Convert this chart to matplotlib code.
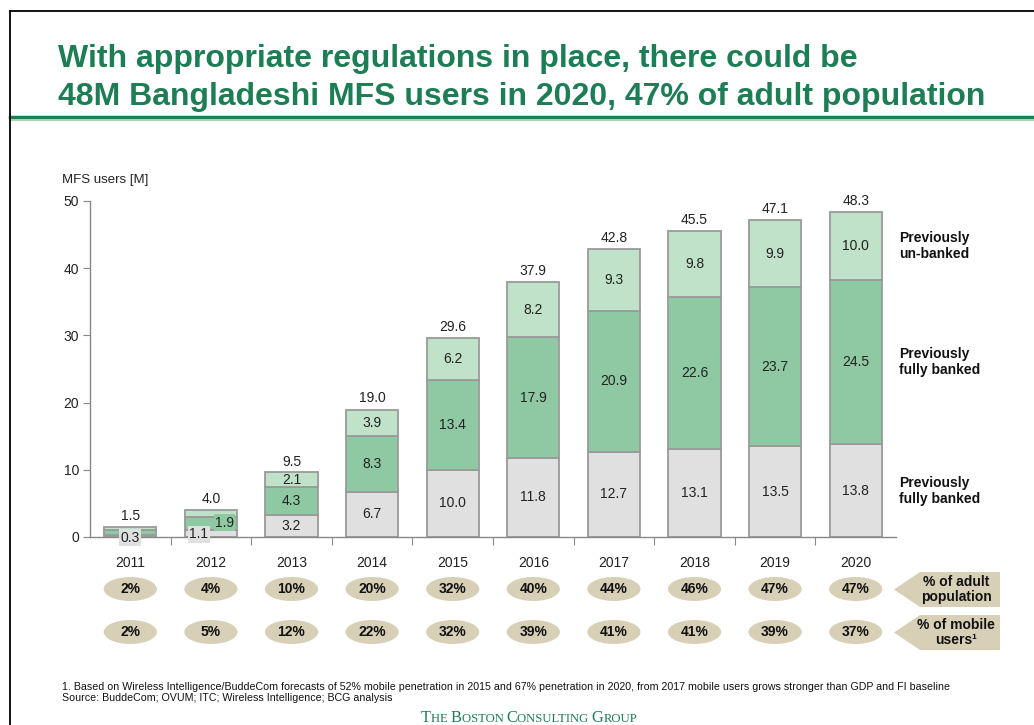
import numpy as np
import matplotlib
matplotlib.use("Agg")
import matplotlib.pyplot as plt
import matplotlib.transforms as mtransforms
from matplotlib.patches import Ellipse, Polygon
from matplotlib.lines import Line2D
from matplotlib.offsetbox import TextArea, HPacker, AnnotationBbox

plt.rcParams['font.family'] = ['Liberation Sans', 'DejaVu Sans']

# data
years = ['2011', '2012', '2013', '2014', '2015', '2016', '2017', '2018', '2019', '2020']
bottom_vals = [0.3, 1.1, 3.2, 6.7, 10.0, 11.8, 12.7, 13.1, 13.5, 13.8]
middle_vals = [0.8, 1.9, 4.3, 8.3, 13.4, 17.9, 20.9, 22.6, 23.7, 24.5]
top_vals = [0.4, 1.0, 2.1, 3.9, 6.2, 8.2, 9.3, 9.8, 9.9, 10.0]
totals = [1.5, 4.0, 9.5, 19.0, 29.6, 37.9, 42.8, 45.5, 47.1, 48.3]
adult_pct = ['2%', '4%', '10%', '20%', '32%', '40%', '44%', '46%', '47%', '47%']
mobile_pct = ['2%', '5%', '12%', '22%', '32%', '39%', '41%', '41%', '39%', '37%']

W, H = 1034, 725
GREEN = '#1d7d55'
C_BOT = '#e0e0e0'
C_MID = '#8fc9a3'
C_TOP = '#bfe2c8'
TAN = '#d8cfb7'
EDGE = '#9a9a9a'


def fx(px):
    return px / W


def fy(py):
    return 1 - py / H


fig = plt.figure(figsize=(W / 100, H / 100), dpi=100)
ax = fig.add_axes([fx(90), fy(537), fx(896) - fx(90), fy(201) - fy(537)])

x = np.arange(len(years))
bw = 0.65
b1 = np.array(bottom_vals)
b2 = b1 + np.array(middle_vals)
ax.bar(x, bottom_vals, bw, color=C_BOT, edgecolor=EDGE, linewidth=1.3, zorder=2)
ax.bar(x, middle_vals, bw, bottom=b1, color=C_MID, edgecolor=EDGE, linewidth=1.3, zorder=2)
ax.bar(x, top_vals, bw, bottom=b2, color=C_TOP, edgecolor=EDGE, linewidth=1.3, zorder=2)

# segment labels (the two small bars get boxed labels)
for i in range(2, len(years)):
    ax.text(x[i], bottom_vals[i] / 2, f'{bottom_vals[i]:.1f}', ha='center', va='center', fontsize=10, color='#222')
    ax.text(x[i], b1[i] + middle_vals[i] / 2, f'{middle_vals[i]:.1f}', ha='center', va='center', fontsize=10, color='#222')
    ax.text(x[i], b2[i] + top_vals[i] / 2, f'{top_vals[i]:.1f}', ha='center', va='center', fontsize=10, color='#222')
ax.text(x[0], -0.1, f'{bottom_vals[0]:.1f}', ha='center', va='center', fontsize=10, color='#222', zorder=4,
        bbox=dict(boxstyle='square,pad=0.1', fc=C_BOT, ec='none'))
ax.text(x[1] - 0.15, 0.4, f'{bottom_vals[1]:.1f}', ha='center', va='center', fontsize=10, color='#222', zorder=4,
        bbox=dict(boxstyle='square,pad=0.1', fc=C_BOT, ec='none'))
ax.text(x[1] + 0.17, 2.1, f'{middle_vals[1]:.1f}', ha='center', va='center', fontsize=10, color='#222', zorder=4,
        bbox=dict(boxstyle='square,pad=0.1', fc=C_MID, ec='none'))

for i, t in enumerate(totals):
    ax.annotate(f'{t:.1f}', (x[i], t), xytext=(0, 3), textcoords='offset points',
                ha='center', va='bottom', fontsize=10, color='#222')

ax.set_xlim(-0.5, len(years) - 0.5)
ax.set_ylim(0, 50)
ax.set_yticks(np.arange(0, 51, 10))
ax.tick_params(axis='y', direction='out', length=5, labelsize=10, colors='#888', labelcolor='#222', pad=3)
ax.set_xticks(np.arange(0.5, len(years) - 0.5, 1))
ax.set_xticklabels([])
ax.tick_params(axis='x', direction='out', length=6, colors='#888')
for s in ['top', 'right']:
    ax.spines[s].set_visible(False)
for s in ['left', 'bottom']:
    ax.spines[s].set_color('#888')
    ax.spines[s].set_linewidth(1)

fig.text(fx(62), fy(180), 'MFS users [M]', fontsize=9.5, color='#222', va='center')

# year labels and percentage ovals below the axis
trans = mtransforms.blended_transform_factory(ax.transData, fig.transFigure)
for i in range(len(years)):
    fig.text(x[i], fy(563), years[i], transform=trans, ha='center', va='center', fontsize=10, color='#222')
    for row, vals in ((589, adult_pct), (632, mobile_pct)):
        fig.add_artist(Ellipse((x[i], fy(row)), 0.66, 24 / H, transform=trans, fc=TAN, ec='none'))
        fig.text(x[i], fy(row), vals[i], transform=trans, ha='center', va='center',
                 fontsize=10, fontweight='bold', color='#111')

# arrow tags on the right
for (ytop, ybot, label) in ((572, 607, '% of adult\npopulation'), (615, 650, '% of mobile\nusers\u00b9')):
    ymid = (ytop + ybot) / 2
    pts = [(fx(894), fy(ymid)), (fx(920), fy(ytop)), (fx(1000), fy(ytop)),
           (fx(1000), fy(ybot)), (fx(920), fy(ybot))]
    fig.add_artist(Polygon(pts, closed=True, transform=fig.transFigure, fc=TAN, ec='none'))
    fig.text(fx(956), fy(ymid), label, ha='center', va='center', fontsize=10,
             fontweight='bold', color='#111', linespacing=1.1)

# series names on the right
for ypix, lab in ((246, 'Previously\nun-banked'), (362, 'Previously\nfully banked'), (491, 'Previously\nfully banked')):
    fig.text(fx(899), fy(ypix), lab, ha='left', va='center', fontsize=10, fontweight='bold',
             color='#111', linespacing=1.15)

# title and header rules
fig.text(fx(58), fy(67), 'With appropriate regulations in place, there could be', fontsize=23,
         fontweight='bold', color=GREEN, va='baseline')
fig.text(fx(58), fy(105), '48M Bangladeshi MFS users in 2020, 47% of adult population', fontsize=23,
         fontweight='bold', color=GREEN, va='baseline')
fig.add_artist(Line2D([fx(10), 1], [fy(117), fy(117)], transform=fig.transFigure, color=GREEN, lw=2.5))
fig.add_artist(Line2D([fx(10), 1], [fy(120), fy(120)], transform=fig.transFigure, color='#a8d5b5', lw=1.5))
fig.add_artist(Line2D([fx(10), 1], [fy(11), fy(11)], transform=fig.transFigure, color='k', lw=1.3))
fig.add_artist(Line2D([fx(10), fx(10)], [fy(11), 0], transform=fig.transFigure, color='k', lw=1.3))

# footnote
fig.text(fx(62), fy(690), '1. Based on Wireless Intelligence/BuddeCom forecasts of 52% mobile penetration in 2015 and '
         '67% penetration in 2020, from 2017 mobile users grows stronger than GDP and FI baseline',
         fontsize=7.65, family=['Liberation Sans Narrow', 'Liberation Sans'], color='#111', va='baseline')
fig.text(fx(62), fy(701), 'Source: BuddeCom; OVUM; ITC; Wireless Intelligence; BCG analysis',
         fontsize=7.65, family=['Liberation Sans Narrow', 'Liberation Sans'], color='#111', va='baseline')

# small-caps logo line
parts = [('T', 11.8), ('HE ', 9.1), ('B', 11.8), ('OSTON ', 9.1), ('C', 11.8), ('ONSULTING ', 9.1), ('G', 11.8), ('ROUP', 9.1)]
areas = [TextArea(s, textprops=dict(fontsize=sz, family='Liberation Serif', color=GREEN)) for s, sz in parts]
pack = HPacker(children=areas, pad=0, sep=0, align='baseline')
ab = AnnotationBbox(pack, (fx(529), fy(718)), xycoords='figure fraction', frameon=False, box_alignment=(0.5, 0.5))
fig.add_artist(ab)

fig.savefig('out.png', dpi=100)
